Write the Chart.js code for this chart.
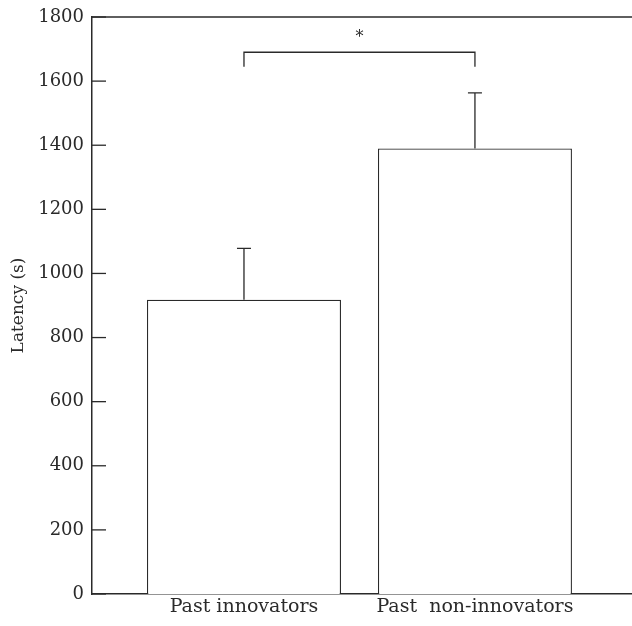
<!DOCTYPE html>
<html>
<head>
<meta charset="utf-8">
<script src="https://cdn.jsdelivr.net/npm/chart.js@4.4.0/dist/chart.umd.min.js"></script>
<style>
  html, body { margin: 0; padding: 0; background: #fff; }
  #wrap { width: 632px; height: 626px; }
</style>
</head>
<body>
<div id="wrap"><canvas id="chart"></canvas></div>
<script>
// Latency of past innovators vs past non-innovators (mean + SE)
const categories = ["Past innovators", "Past  non-innovators"];
const latency = [918, 1390];
const upperError = [160, 173];
const yTicks = [0, 200, 400, 600, 800, 1000, 1200, 1400, 1600, 1800];
// significance bracket between the two groups
const sigLevel = 1690;
const sigDrop = 45;
const sigLabel = "*";

const INK = "#2a2a2a";
const SERIF = "'DejaVu Serif', 'Liberation Serif', serif";

const decorations = {
  id: "decorations",
  afterDatasetsDraw(chart) {
    const { ctx, chartArea: a, scales: { x, y } } = chart;
    ctx.save();
    ctx.strokeStyle = INK;
    ctx.lineWidth = 1.3;

    // top frame line
    ctx.beginPath();
    ctx.moveTo(a.left, a.top);
    ctx.lineTo(a.right, a.top);
    ctx.stroke();

    // inward tick marks on the y axis
    for (const v of yTicks) {
      const py = y.getPixelForValue(v);
      ctx.beginPath();
      ctx.moveTo(a.left, py);
      ctx.lineTo(a.left + 14, py);
      ctx.stroke();
    }

    // upper error bars
    latency.forEach((v, i) => {
      const px = x.getPixelForValue(i + 1);
      const y0 = y.getPixelForValue(v);
      const y1 = y.getPixelForValue(v + upperError[i]);
      ctx.beginPath();
      ctx.moveTo(px, y0);
      ctx.lineTo(px, y1);
      ctx.moveTo(px - 7, y1);
      ctx.lineTo(px + 7, y1);
      ctx.stroke();
    });

    // significance bracket
    const xa = x.getPixelForValue(1), xb = x.getPixelForValue(2);
    const yt = y.getPixelForValue(sigLevel), yd = y.getPixelForValue(sigLevel - sigDrop);
    ctx.beginPath();
    ctx.moveTo(xa, yd);
    ctx.lineTo(xa, yt);
    ctx.lineTo(xb, yt);
    ctx.lineTo(xb, yd);
    ctx.stroke();
    ctx.fillStyle = INK;
    ctx.font = "16px " + SERIF;
    ctx.textAlign = "center";
    ctx.textBaseline = "bottom";
    ctx.fillText(sigLabel, (xa + xb) / 2, yt - 6);
    ctx.restore();
  }
};

new Chart(document.getElementById("chart"), {
  type: "bar",
  data: {
    datasets: [{
      data: latency.map((v, i) => ({ x: i + 1, y: v })),
      backgroundColor: "#ffffff",
      borderColor: INK,
      borderWidth: { top: 1.3, left: 1.3, right: 1.3, bottom: 0 },
      borderSkipped: false,
      categoryPercentage: 1,
      barPercentage: 0.84,
    }],
  },
  options: {
    responsive: true,
    maintainAspectRatio: false,
    animation: false,
    layout: { padding: 0 },
    plugins: { legend: { display: false }, tooltip: { enabled: false } },
    scales: {
      x: {
        type: "linear",
        offset: false,
        bounds: "data",
        min: 0.342,
        max: 2.68,
        afterBuildTicks: s => { s.ticks = categories.map((c, i) => ({ value: i + 1 })); },
        afterFit: s => { s.height = 32; },
        ticks: {
          autoSkip: false,
          maxRotation: 0,
          padding: 2,
          color: INK,
          font: { family: SERIF, size: 19 },
          callback: v => categories[v - 1] ?? "",
        },
        grid: { display: false, drawTicks: false, offset: false },
        border: { display: true, color: INK, width: 1.5 },
      },
      y: {
        min: 0,
        max: 1800,
        afterBuildTicks: s => { s.ticks = yTicks.map(v => ({ value: v })); },
        afterFit: s => { s.width = 92; },
        ticks: {
          padding: 8,
          color: INK,
          font: { family: SERIF, size: 18, lineHeight: 1.0 },
          callback: v => String(v),
        },
        grid: { display: false, drawTicks: false },
        border: { display: true, color: INK, width: 1.5 },
        title: {
          display: true,
          text: "Latency (s)",
          color: INK,
          font: { family: SERIF, size: 17 },
          padding: { top: 8, bottom: 0 },
        },
      },
    },
  },
  plugins: [decorations],
});
</script>
</body>
</html>
